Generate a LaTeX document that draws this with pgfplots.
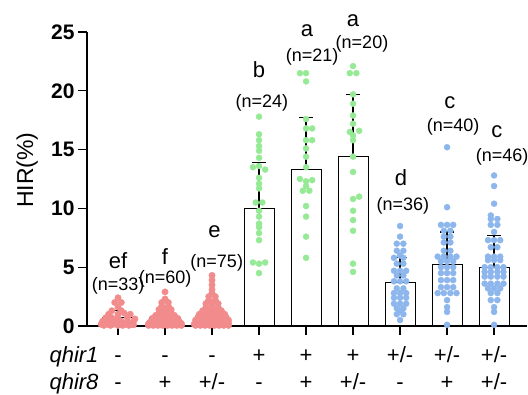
\documentclass[border=0pt]{standalone}
\usepackage{fontspec}
\setmainfont{Liberation Sans}
\usepackage{pgfplots}
\pgfplotsset{compat=1.18}
\definecolor{pinkpt}{RGB}{242,140,140}
\definecolor{greenpt}{RGB}{150,234,150}
\definecolor{bluept}{RGB}{140,182,236}
\begin{document}
\begin{tikzpicture}
\useasboundingbox (-87pt,-69pt) rectangle (441pt,326pt);
\begin{axis}[at={(0,0)}, anchor=south west, scale only axis, width=440pt, height=294pt,
  xmin=-0.66, xmax=8.7, ymin=0, ymax=25,
  axis lines=left, axis line style={line width=1.5pt, -},
  ytick={0,5,...,25}, xtick={0,...,8}, xticklabels={},
  tick style={black, line width=1.3pt},
  tick align=outside, major tick length=9pt,
  yticklabel style={font=\fontsize{21}{21}\selectfont\bfseries},
  /pgf/number format/assume math mode=true,
  ylabel={HIR(\%)},
  ylabel style={at={(axis description cs:-0.136,0.53)}, anchor=center, font=\fontsize{23}{23}\selectfont},
  clip=false]
\addplot[ybar, bar width=0.64, fill=white, draw=black, line width=1pt,
  error bars/.cd, y dir=plus, y explicit,
  error bar style={line width=1.2pt, black},
  error mark options={black, line width=1.2pt, mark size=7pt, rotate=90}]
  table[x=x, y=y, y error=e] {
x y e
0 0.7 0.6
1 0.7 0.65
2 1.0 1.15
3 10.0 3.9
4 13.3 4.4
5 14.4 5.3
6 3.7 2.1
7 5.25 2.75
8 5.0 2.7
};
% group 1
\addplot[only marks, mark=*, mark size=3.2pt, mark options={draw=pinkpt, fill=pinkpt}] table {
x y
0 2.4
-0.07 2.0
0.07 2.0
0 1.6
-0.13 1.3
0.07 1.3
-0.2 1.0
0 1.0
0.13 1.1
0.26 1.0
-0.26 0.7
-0.13 0.7
0 0.7
0.2 0.7
-0.33 0.4
-0.2 0.4
-0.07 0.4
0.07 0.4
0.2 0.4
0.33 0.4
-0.36 0.15
-0.23 0.15
-0.1 0.15
0.03 0.15
0.16 0.15
0.29 0.15
0.36 0.6
-0.3 0.05
-0.16 0.05
0 0.05
0.1 0.05
0.23 0.05
0.33 0.1
};
% group 2
\addplot[only marks, mark=*, mark size=3.2pt, mark options={draw=pinkpt, fill=pinkpt}] table {
x y
1 2.9
1 2.3
0.93 2.0
1.07 2.0
0.93 1.7
1.07 1.7
0.87 1.4
1 1.4
1.13 1.4
0.87 1.15
1 1.15
1.13 1.15
0.8 0.9
0.93 0.9
1.07 0.9
1.2 0.9
0.73 0.65
0.87 0.65
1 0.65
1.13 0.65
1.27 0.65
0.7 0.4
0.8 0.4
0.93 0.4
1.07 0.4
1.2 0.4
1.3 0.4
0.65 0.2
0.75 0.2
0.87 0.2
1 0.2
1.13 0.2
1.25 0.2
1.35 0.2
0.65 0.05
0.75 0.05
0.85 0.05
0.95 0.05
1.05 0.05
1.15 0.05
1.25 0.05
1.35 0.05
0.65 0.1
0.7 0.1
0.8 0.1
0.9 0.1
1.0 0.1
1.1 0.1
1.2 0.1
1.3 0.1
0.68 0.3
0.78 0.3
0.9 0.3
1.0 0.3
1.1 0.3
1.22 0.3
1.32 0.3
0.85 0.55
1.0 0.55
1.15 0.55
};
% group 3
\addplot[only marks, mark=*, mark size=3.2pt, mark options={draw=pinkpt, fill=pinkpt}] table {
x y
2 4.3
2 3.9
2 3.5
2 3.1
2 2.8
1.93 2.5
2.07 2.5
1.93 2.2
2.07 2.2
1.87 1.9
2 1.9
2.13 1.9
1.87 1.6
2 1.6
2.13 1.6
1.8 1.3
1.93 1.3
2.07 1.3
2.2 1.3
1.73 1.0
1.87 1.0
2 1.0
2.13 1.0
2.27 1.0
1.7 0.75
1.8 0.75
1.93 0.75
2.07 0.75
2.2 0.75
2.3 0.75
1.65 0.5
1.75 0.5
1.87 0.5
2 0.5
2.13 0.5
2.25 0.5
2.35 0.5
1.65 0.25
1.75 0.25
1.85 0.25
1.95 0.25
2.05 0.25
2.15 0.25
2.25 0.25
2.35 0.25
1.65 0.05
1.75 0.05
1.85 0.05
1.95 0.05
2.05 0.05
2.15 0.05
2.25 0.05
2.35 0.05
1.62 0.15
1.7 0.15
1.8 0.15
1.9 0.15
2.0 0.15
2.1 0.15
2.2 0.15
2.3 0.15
1.7 0.4
1.8 0.4
1.9 0.4
2.0 0.4
2.1 0.4
2.2 0.4
2.3 0.4
1.7 0.6
1.8 0.6
1.9 0.6
2.0 0.6
2.1 0.6
2.2 0.6
2.3 0.6
};
% group 4
\addplot[only marks, mark=*, mark size=3pt, mark options={draw=greenpt, fill=greenpt}] table {
x y
3 17.8
3 16.3
3 15.8
3 15.3
3 14.9
3 14.3
2.87 13.5
3 13.6
3.13 13.3
3 12.6
3 12.1
3 11.7
2.93 10.5
3.07 10.5
3 9.8
3 9.3
3 8.7
3 8.4
3 7.9
3 7.3
2.87 5.4
3 5.3
3.13 5.4
3 4.5
};
% group 5
\addplot[only marks, mark=*, mark size=3pt, mark options={draw=greenpt, fill=greenpt}] table {
x y
3.87 21.5
4 21.5
4 20.8
4 17.6
4 16.8
4.13 16.8
4 15.8
4.13 15.8
4 15.1
4 14.4
4 13.5
3.87 12.5
4 12.3
4.13 12.4
4 11.9
3.93 11.5
4.07 11.5
4 10.2
4 9.3
4 7.6
4 5.8
};
% group 6
\addplot[only marks, mark=*, mark size=3pt, mark options={draw=greenpt, fill=greenpt}] table {
x y
5 22.1
4.93 21.5
5.07 21.5
5 19.7
5 18.9
5 17.9
5 17.2
4.93 16.5
5.13 16.6
5 16.2
5 15.8
5 14.4
5 13.1
5 10.8
5.13 11.0
5 9.8
5 9.0
5 8.1
5 5.3
5 4.6
};
% group 7
\addplot[only marks, mark=*, mark size=3pt, mark options={draw=bluept, fill=bluept}] table {
x y
6 8.5
6 7.6
5.93 7.0
6.07 7.0
5.93 6.4
6.07 6.4
6.0 6.0
5.87 5.8
6.07 5.8
5.93 5.3
6.07 5.3
5.87 4.7
6 4.7
6.13 4.7
5.93 4.3
6.07 4.3
5.87 3.8
6 3.8
6.13 3.8
5.93 3.2
6.07 3.2
5.87 2.8
6 2.8
6.13 2.8
5.87 2.4
6 2.4
6.13 2.4
5.87 1.9
6 1.9
6.13 1.9
5.93 1.5
6.07 1.5
6.0 1.3
5.93 1.0
6.07 1.0
6 0.5
};
% group 8
\addplot[only marks, mark=*, mark size=3pt, mark options={draw=bluept, fill=bluept}] table {
x y
7 15.2
7 10.1
6.87 8.6
7 8.6
7.13 8.6
6.93 8.1
7.07 8.1
6.93 7.6
7.07 7.6
6.93 7.1
7.07 7.1
6.93 6.4
7.07 6.4
6.8 5.9
6.93 5.9
7.07 5.9
7.2 5.9
6.87 5.5
7 5.5
7.13 5.5
6.87 5.0
7 5.0
7.13 5.0
6.87 4.5
7 4.5
7.13 4.5
6.87 3.9
7 3.9
7.13 3.9
6.87 3.3
7 3.3
7.13 3.3
6.8 2.8
6.93 2.8
7.07 2.8
7.2 2.8
7 2.2
7 1.6
7 1.2
7 0.1
};
% group 9
\addplot[only marks, mark=*, mark size=3pt, mark options={draw=bluept, fill=bluept}] table {
x y
8 12.8
8 11.9
8 10.4
7.93 9.4
7.93 9.1
8.07 9.1
7.93 8.6
8.07 8.6
8 8.0
7.87 7.3
8 7.3
8.13 7.3
7.93 6.7
8.07 6.7
7.87 5.9
8 5.9
8.13 5.9
7.87 5.6
8 5.6
8.13 5.6
7.8 5.0
7.93 5.0
8.07 5.0
8.2 5.0
7.8 4.6
7.93 4.6
8.07 4.6
8.2 4.6
7.8 4.2
7.93 4.2
8.07 4.2
8.2 4.2
7.8 3.6
7.93 3.6
8.07 3.6
8.2 3.6
7.87 3.2
8 3.2
8.13 3.2
7.93 2.8
8.07 2.8
7.93 2.2
8.07 2.2
8 1.6
8 1.2
8 0.1
};
% letters
\tikzset{lett/.style={anchor=base, font=\fontsize{22}{22}\selectfont}, nlab/.style={anchor=base, font=\fontsize{18}{18}\selectfont}}
\node[lett] at (axis cs:0,4.9) {ef};
\node[nlab] at (axis cs:0,3.05) {(n=33)};
\node[lett] at (axis cs:1,5.2) {f};
\node[nlab] at (axis cs:1,3.6) {(n=60)};
\node[lett] at (axis cs:2.05,7.5) {e};
\node[nlab] at (axis cs:2.1,5.0) {(n=75)};
\node[lett] at (axis cs:3,21.1) {b};
\node[nlab] at (axis cs:3.06,18.6) {(n=24)};
\node[lett] at (axis cs:4.02,24.6) {a};
\node[nlab] at (axis cs:4.13,22.5) {(n=21)};
\node[lett] at (axis cs:5.0,25.5) {a};
\node[nlab] at (axis cs:5.19,23.6) {(n=20)};
\node[lett] at (axis cs:6.02,11.95) {d};
\node[nlab] at (axis cs:6.06,9.8) {(n=36)};
\node[lett] at (axis cs:7.06,18.5) {c};
\node[nlab] at (axis cs:7.13,16.5) {(n=40)};
\node[lett] at (axis cs:8.06,16.0) {c};
\node[nlab] at (axis cs:8.17,14.0) {(n=46)};
% genotype rows
\tikzset{g1/.style={anchor=base, yshift=-37pt, font=\fontsize{22}{22}\selectfont}, g2/.style={anchor=base, yshift=-64pt, font=\fontsize{22}{22}\selectfont}}
\node[anchor=base east, xshift=15pt, yshift=-37pt, font=\fontsize{22}{22}\selectfont\itshape] at (rel axis cs:0,0) {qhir1};
\node[anchor=base east, xshift=15pt, yshift=-64pt, font=\fontsize{22}{22}\selectfont\itshape] at (rel axis cs:0,0) {qhir8};
\node[g1] at (axis cs:0,0) {-};
\node[g1] at (axis cs:1,0) {-};
\node[g1] at (axis cs:2,0) {-};
\node[g1] at (axis cs:3,0) {+};
\node[g1] at (axis cs:4,0) {+};
\node[g1] at (axis cs:5,0) {+};
\node[g1] at (axis cs:6,0) {+/-};
\node[g1] at (axis cs:7,0) {+/-};
\node[g1] at (axis cs:8,0) {+/-};
\node[g2] at (axis cs:0,0) {-};
\node[g2] at (axis cs:1,0) {+};
\node[g2] at (axis cs:2,0) {+/-};
\node[g2] at (axis cs:3,0) {-};
\node[g2] at (axis cs:4,0) {+};
\node[g2] at (axis cs:5,0) {+/-};
\node[g2] at (axis cs:6,0) {-};
\node[g2] at (axis cs:7,0) {+};
\node[g2] at (axis cs:8,0) {+/-};
\end{axis}
\end{tikzpicture}
\end{document}
